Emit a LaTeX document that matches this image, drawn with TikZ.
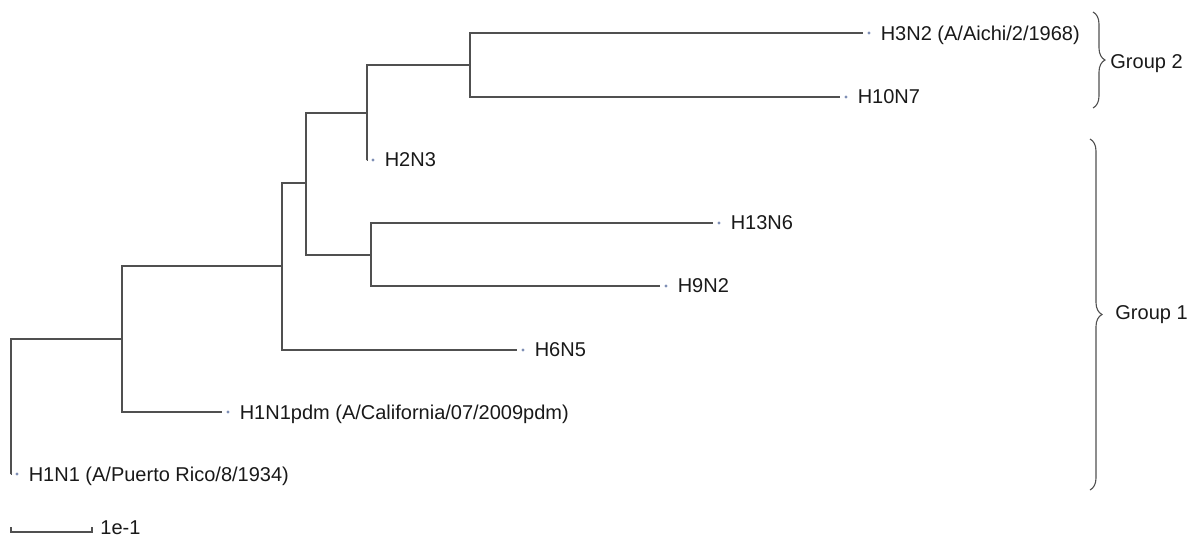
\documentclass[tikz,border=0pt]{standalone}
\usepackage{fontspec}
\setmainfont{Liberation Sans}
\usetikzlibrary{decorations.pathreplacing}
\definecolor{branchgray}{HTML}{505050}
\definecolor{tipblue}{HTML}{7F8FB5}

\begin{document}
\begin{tikzpicture}[
  x=0.5pt, y=-0.5pt,
  every node/.style={font=\fontsize{10pt}{12pt}\selectfont, text=black!90},
  branch/.style={draw=branchgray, line width=0.55pt},
  tip/.style={circle, fill=tipblue, inner sep=0pt, minimum size=1.6pt, outer sep=2.4pt},
  taxon/.style={inner sep=0pt, text depth=0pt},
  leaflabel/.style={taxon, xshift=2.5pt},
  group/.style={draw=branchgray, line width=0.55pt, decorate, decoration={brace, amplitude=6pt}}
  ]
\useasboundingbox (0,0) rectangle (1195,538);

% internal nodes
\coordinate (root) at (11,408);
\coordinate (n1) at (122,339);
\coordinate (n2) at (282,266);
\coordinate (n3) at (306,183);
\coordinate (n4) at (367,113);
\coordinate (n5) at (470,65);
\coordinate (n6) at (371,255);

% leaves
\node[tip, label={[leaflabel]right:H3N2 (A/Aichi/2/1968)}] (h3n2) at (869,33) {};
\node[tip, label={[leaflabel]right:H10N7}] (h10n7) at (846,97) {};
\node[tip, label={[leaflabel]right:H2N3}] (h2n3) at (373,160) {};
\node[tip, label={[leaflabel]right:H13N6}] (h13n6) at (719,223) {};
\node[tip, label={[leaflabel]right:H9N2}] (h9n2) at (666,286) {};
\node[tip, label={[leaflabel]right:H6N5}] (h6n5) at (523,350) {};
\node[tip, label={[leaflabel]right:H1N1pdm (A/California/07/2009pdm)}] (h1n1pdm) at (228,412) {};
\node[tip, label={[leaflabel]right:H1N1 (A/Puerto Rico/8/1934)}] (h1n1) at (17,474) {};

% branches
\draw[branch] (root) |- (n1);
\draw[branch] (root) |- (h1n1.west);
\draw[branch] (n1) |- (n2);
\draw[branch] (n1) |- (h1n1pdm);
\draw[branch] (n2) |- (n3);
\draw[branch] (n2) |- (h6n5);
\draw[branch] (n3) |- (n4);
\draw[branch] (n3) |- (n6);
\draw[branch] (n4) |- (n5);
\draw[branch] (n4) |- (h2n3.west);
\draw[branch] (n5) |- (h3n2);
\draw[branch] (n5) |- (h10n7);
\draw[branch] (n6) |- (h13n6);
\draw[branch] (n6) |- (h9n2);

% groups
\coordinate (g2-top) at (1093,12);
\coordinate (g2-bot) at (1093,108);
\draw[group] (g2-top) -- (g2-bot);
\node[taxon, anchor=west] (g2) at (1110,62) {Group 2};
\coordinate (g1-top) at (1090,139);
\coordinate (g1-bot) at (1090,490);
\draw[group] (g1-top) -- (g1-bot);
\node[taxon, anchor=west] (g1) at (1115,313) {Group 1};

% scale bar
\coordinate (sb-a) at (11,532);
\coordinate (sb-b) at (92,532);
\draw[branch] (sb-a) ++(0,-5) -- (sb-a) -- (sb-b) -- ++(0,-5);
\node[taxon, anchor=west] (sb) at (100,528) {1e-1};
\end{tikzpicture}
\end{document}
